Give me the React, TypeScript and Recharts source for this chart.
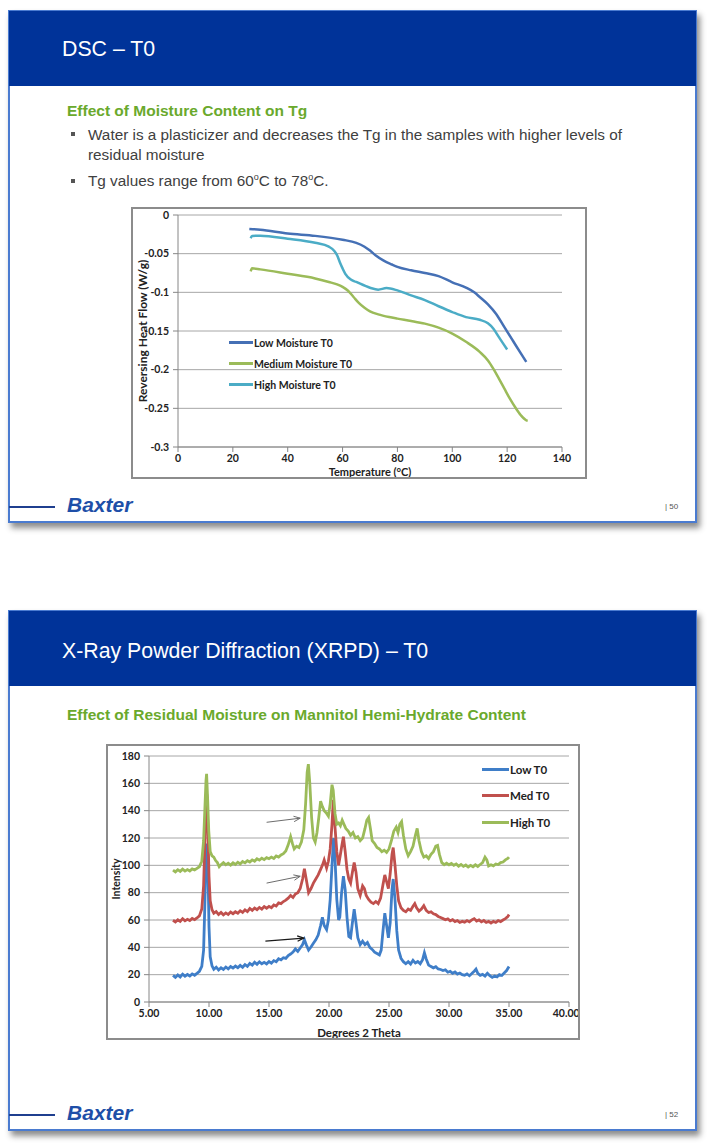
import React from 'react';
import { LineChart, Line, XAxis, YAxis, CartesianGrid, Legend, ReferenceLine } from 'recharts';

// ---- DSC (slide 50) ----
const dscSeries = ['Low Moisture T0', 'Medium Moisture T0', 'High Moisture T0'];

const lowTemp = [26, 30, 40, 50, 60, 65, 68, 70, 72, 75, 78, 80, 85, 90, 95, 100, 105, 108, 110, 113, 116, 119, 122, 125, 127];
const lowFlow = [-0.018, -0.019, -0.024, -0.027, -0.032, -0.036, -0.041, -0.046, -0.052, -0.059, -0.064, -0.067, -0.0715, -0.075, -0.079, -0.087, -0.094, -0.1, -0.106, -0.1155, -0.128, -0.145, -0.162, -0.179, -0.19];

const medTemp = [26.5, 27, 30, 40, 50, 55, 58, 60, 62, 64, 66, 68, 70, 73, 77, 80, 85, 90, 95, 100, 105, 110, 113, 115, 117, 119, 121, 123, 125, 127, 127.5];
const medFlow = [-0.073, -0.069, -0.0703, -0.076, -0.082, -0.0866, -0.0897, -0.093, -0.098, -0.106, -0.114, -0.12, -0.1246, -0.1285, -0.132, -0.134, -0.137, -0.1405, -0.1457, -0.1534, -0.164, -0.177, -0.188, -0.199, -0.2116, -0.2246, -0.2375, -0.249, -0.259, -0.2655, -0.266];

const highTemp = [26.5, 27, 30, 40, 50, 55, 57, 58, 59, 60, 61, 63, 65, 70, 73, 76, 80, 85, 90, 95, 100, 105, 110, 113, 115, 117, 120];
const highFlow = [-0.03, -0.027, -0.0267, -0.0306, -0.036, -0.041, -0.0465, -0.052, -0.061, -0.069, -0.076, -0.0835, -0.0866, -0.094, -0.0965, -0.0945, -0.0975, -0.104, -0.11, -0.118, -0.1255, -0.132, -0.1355, -0.14, -0.147, -0.158, -0.174];

const dscXTicks = [0, 20, 40, 60, 80, 100, 120, 140];
const dscYTicks = [0, -0.05, -0.1, -0.15, -0.2, -0.25, -0.3];

// ---- XRPD (slide 52) ----
const xrpdSeries = ['Low T0', 'Med T0', 'High T0'];

const lowTheta = [7.0, 7.2, 7.4, 7.6, 7.8, 8.0, 8.2, 8.4, 8.6, 8.8, 9.0, 9.2, 9.4, 9.55, 9.65, 9.75, 9.83, 9.92, 10.0, 10.1, 10.25, 10.4, 10.6, 10.8, 11.0, 11.2, 11.4, 11.6, 11.8, 12.0, 12.2, 12.4, 12.6, 12.8, 13.0, 13.2, 13.4, 13.6, 13.8, 14.0, 14.2, 14.4, 14.6, 14.8, 15.0, 15.2, 15.4, 15.6, 15.8, 16.0, 16.2, 16.4, 16.6, 16.8, 17.0, 17.2, 17.4, 17.6, 17.8, 17.95, 18.1, 18.3, 18.5, 18.7, 18.9, 19.1, 19.3, 19.45, 19.6, 19.8, 19.95, 20.1, 20.25, 20.38, 20.5, 20.65, 20.8, 20.9, 21.05, 21.2, 21.35, 21.5, 21.65, 21.8, 21.95, 22.1, 22.25, 22.4, 22.6, 22.8, 23.0, 23.2, 23.4, 23.6, 23.8, 24.0, 24.2, 24.35, 24.5, 24.65, 24.8, 24.95, 25.1, 25.25, 25.35, 25.5, 25.65, 25.8, 26.0, 26.2, 26.4, 26.6, 26.8, 27.0, 27.2, 27.4, 27.6, 27.8, 27.95, 28.1, 28.3, 28.5, 28.7, 28.9, 29.1, 29.3, 29.5, 29.7, 29.9, 30.1, 30.3, 30.5, 30.7, 30.9, 31.1, 31.3, 31.5, 31.7, 31.9, 32.1, 32.25, 32.4, 32.6, 32.8, 33.0, 33.2, 33.4, 33.6, 33.8, 34.0, 34.2, 34.4, 34.6, 34.8, 35.0];
const lowIntensity = [19.5, 18.0, 19.8, 18.3, 20.4, 18.9, 20.1, 19.0, 20.6, 19.6, 21.0, 22.5, 26, 38, 70, 105, 116, 95, 55, 33, 26.5, 24.0, 25.5, 23.4, 25.0, 23.8, 25.6, 24.2, 26.0, 24.9, 26.3, 25.1, 26.8, 25.4, 27.4, 26.1, 28.2, 27.0, 29.1, 27.6, 29.4, 28.0, 29.0, 27.9, 29.6, 28.4, 30.3, 29.5, 31.6, 30.8, 32.4, 31.9, 34.0, 35.1, 36.5, 38.8, 37.0, 39.5, 42.0, 45.5, 42.0, 38.0, 40.2, 43.0, 45.5, 49.0, 56.0, 62.0, 56.0, 53.0, 60.0, 75.0, 100.0, 120.0, 105.0, 75.0, 60.0, 62.0, 80.0, 92.0, 82.0, 62.0, 48.0, 47.0, 58.0, 68.0, 58.0, 47.0, 42.0, 44.5, 42.0, 43.5, 40.0, 38.5, 36.5, 35.5, 34.5, 38.0, 52.0, 65.0, 56.0, 47.0, 58.0, 82.0, 90.0, 75.0, 52.0, 38.0, 32.0, 29.5, 28.0, 29.5, 27.8, 30.5, 28.5, 29.6, 28.0, 31.0, 36.0, 31.5, 27.0, 26.0, 25.0, 25.8, 24.2, 23.8, 23.0, 23.6, 21.8, 22.4, 21.0, 22.0, 20.4, 21.2, 20.0, 19.6, 20.5, 19.2, 20.8, 22.5, 24.0, 21.0, 19.5, 20.2, 19.0, 21.0, 19.2, 18.0, 19.0, 18.4, 20.0, 19.4, 21.2, 23.0, 26.0];

const medTheta = [7.0, 7.2, 7.4, 7.6, 7.8, 8.0, 8.2, 8.4, 8.6, 8.8, 9.0, 9.2, 9.4, 9.55, 9.65, 9.75, 9.82, 9.9, 10.0, 10.1, 10.25, 10.4, 10.6, 10.8, 11.0, 11.2, 11.4, 11.6, 11.8, 12.0, 12.2, 12.4, 12.6, 12.8, 13.0, 13.2, 13.4, 13.6, 13.8, 14.0, 14.2, 14.4, 14.6, 14.8, 15.0, 15.2, 15.4, 15.6, 15.8, 16.0, 16.2, 16.4, 16.6, 16.8, 17.0, 17.2, 17.4, 17.6, 17.8, 17.95, 18.1, 18.3, 18.5, 18.7, 18.9, 19.1, 19.3, 19.45, 19.6, 19.8, 19.95, 20.1, 20.25, 20.36, 20.5, 20.65, 20.8, 20.95, 21.1, 21.2, 21.35, 21.5, 21.65, 21.8, 21.95, 22.1, 22.25, 22.4, 22.6, 22.8, 22.95, 23.1, 23.3, 23.5, 23.7, 23.9, 24.1, 24.3, 24.5, 24.65, 24.8, 24.95, 25.1, 25.25, 25.35, 25.5, 25.65, 25.8, 26.0, 26.2, 26.4, 26.6, 26.8, 27.0, 27.15, 27.3, 27.5, 27.7, 27.9, 28.1, 28.3, 28.5, 28.7, 28.9, 29.1, 29.3, 29.5, 29.7, 29.9, 30.1, 30.3, 30.5, 30.7, 30.9, 31.1, 31.3, 31.5, 31.7, 31.9, 32.1, 32.3, 32.5, 32.7, 32.9, 33.1, 33.3, 33.5, 33.7, 33.9, 34.1, 34.3, 34.5, 34.7, 34.9, 35.0];
const medIntensity = [59.8, 58.6, 60.2, 59.0, 61.0, 59.4, 60.5, 59.6, 61.1, 60.2, 61.5, 63.0, 68, 85, 115, 145, 152, 130, 92, 74, 67.5, 65.0, 66.2, 64.0, 65.5, 63.8, 65.2, 64.0, 65.8, 64.6, 66.0, 65.0, 66.8, 65.6, 67.5, 66.2, 68.4, 67.0, 68.8, 67.6, 69.2, 68.0, 69.8, 68.6, 70.0, 69.0, 71.0, 70.2, 72.5, 72.0, 73.5, 74.5, 76.0, 78.0, 76.5, 79.0, 80.0, 83.0, 90.0, 97.5, 90.0, 80.0, 83.0, 87.0, 90.0, 93.0, 97.0, 100.0, 104.0, 98.0, 103.0, 112.0, 130.0, 148.0, 128.0, 110.0, 100.0, 108.0, 116.0, 121.0, 110.0, 97.0, 90.0, 87.0, 95.0, 102.0, 95.0, 83.0, 78.0, 85.0, 83.0, 78.0, 75.0, 73.0, 72.0, 73.5, 72.0, 76.0, 86.0, 93.0, 88.0, 83.0, 94.0, 108.0, 113.0, 100.0, 85.0, 74.0, 69.0, 67.0, 66.0, 68.0, 67.0, 70.0, 72.0, 69.0, 66.5, 68.0, 70.5, 67.0, 65.5, 66.0, 64.5, 64.0, 62.6, 61.8, 61.0, 60.2, 60.8, 59.4, 60.2, 58.8, 59.6, 58.2, 59.0, 58.4, 59.6, 58.6, 60.0, 61.0, 59.2, 60.0, 58.6, 59.6, 58.2, 59.0, 57.8, 59.0, 58.2, 59.6, 58.8, 60.0, 61.0, 62.5, 64.0];

const highTheta = [7.0, 7.2, 7.4, 7.6, 7.8, 8.0, 8.2, 8.4, 8.6, 8.8, 9.0, 9.2, 9.4, 9.55, 9.65, 9.75, 9.8, 9.88, 9.98, 10.1, 10.25, 10.4, 10.55, 10.7, 10.85, 11.0, 11.2, 11.4, 11.6, 11.8, 12.0, 12.2, 12.4, 12.6, 12.8, 13.0, 13.2, 13.4, 13.6, 13.8, 14.0, 14.2, 14.4, 14.6, 14.8, 15.0, 15.2, 15.4, 15.6, 15.8, 16.0, 16.2, 16.4, 16.6, 16.8, 16.95, 17.1, 17.3, 17.5, 17.7, 17.9, 18.05, 18.18, 18.28, 18.4, 18.55, 18.7, 18.85, 19.0, 19.15, 19.3, 19.45, 19.6, 19.8, 19.95, 20.1, 20.25, 20.35, 20.5, 20.65, 20.8, 20.95, 21.1, 21.25, 21.4, 21.6, 21.8, 22.0, 22.2, 22.4, 22.6, 22.8, 23.0, 23.15, 23.3, 23.45, 23.6, 23.8, 24.0, 24.2, 24.4, 24.6, 24.8, 25.0, 25.2, 25.4, 25.6, 25.75, 25.9, 26.05, 26.2, 26.4, 26.6, 26.8, 27.0, 27.2, 27.35, 27.5, 27.7, 27.9, 28.1, 28.3, 28.5, 28.7, 28.9, 29.05, 29.2, 29.4, 29.6, 29.8, 30.0, 30.2, 30.4, 30.6, 30.8, 31.0, 31.2, 31.4, 31.6, 31.8, 32.0, 32.2, 32.4, 32.6, 32.8, 33.0, 33.15, 33.3, 33.5, 33.7, 33.9, 34.1, 34.3, 34.5, 34.7, 34.9, 35.0];
const highIntensity = [96.5, 95.2, 96.8, 95.6, 97.2, 95.8, 96.9, 95.9, 97.4, 96.6, 97.8, 99.0, 103, 118, 140, 162, 167, 150, 125, 110, 107, 106, 103.5, 102.0, 99.0, 100.5, 102.0, 100.4, 101.6, 100.2, 101.8, 100.6, 102.2, 101.0, 102.8, 101.8, 103.4, 102.4, 104.0, 103.0, 104.8, 103.8, 105.2, 104.2, 105.6, 104.8, 106.0, 105.0, 106.8, 106.0, 107.6, 108.5, 110.5, 115.0, 121.0, 116.0, 112.0, 114.0, 113.0, 117.0, 126.0, 145.0, 168.0, 174.0, 160.0, 135.0, 120.0, 117.0, 124.0, 135.0, 147.0, 143.0, 140.0, 138.0, 136.0, 145.0, 159.0, 155.0, 138.0, 130.0, 131.0, 129.0, 133.0, 130.0, 127.0, 125.0, 122.0, 124.0, 120.0, 121.0, 118.0, 120.0, 127.0, 133.0, 135.0, 127.0, 118.0, 116.0, 113.0, 112.0, 110.0, 111.0, 109.5, 112.0, 118.0, 125.0, 128.0, 124.0, 130.0, 132.0, 122.0, 112.0, 107.0, 110.0, 114.0, 122.0, 127.0, 118.0, 110.0, 106.0, 107.0, 105.0, 108.0, 110.0, 114.0, 114.5, 108.0, 102.0, 100.5, 101.6, 100.4, 101.4, 100.0, 101.0, 99.4, 100.6, 99.2, 100.2, 98.8, 100.0, 99.0, 100.4, 99.2, 100.6, 102.0, 106.0, 104.0, 99.5, 100.4, 99.6, 101.0, 100.6, 102.0, 102.4, 104.0, 105.0, 106.0];

const xrpdXTicks = [5, 10, 15, 20, 25, 30, 35, 40];
const xrpdYTicks = [0, 20, 40, 60, 80, 100, 120, 140, 160, 180];

// annotation arrows, [x1, y1, x2, y2] in data units
const arrowHigh = [14.8, 131.5, 17.6, 134.5];
const arrowMed = [14.8, 87, 17.6, 92];
const arrowLow = [14.7, 44.5, 17.9, 46.8];

const toPoints = (xs: number[], ys: number[]) => xs.map((x, i) => ({ x, y: ys[i] }));

const chartFont = 'Lato, "Open Sans", sans-serif';
const tickStyle = { fontSize: 10.5, fontWeight: 700, fill: '#222', fontFamily: chartFont };
const labelStyle = (size: number) => ({ fontSize: size, fontWeight: 700, fill: '#222', fontFamily: chartFont });

// keep the legend in series order (recharts sorts by name otherwise)
const makeLegend = (order: string[], rowH: number, lineW: number, size: number) => (props: any) => {
  const items = [...(props.payload || [])].sort((a: any, b: any) => order.indexOf(a.value) - order.indexOf(b.value));
  return (
    <div>
      {items.map((e: any, i: number) => (
        <div key={i} style={{ display: 'flex', alignItems: 'center', height: rowH }}>
          <span style={{ display: 'inline-block', width: lineW, height: 3, background: e.color }} />
          <span style={{ marginLeft: 1, fontSize: size, fontWeight: 700, color: '#222', fontFamily: chartFont, whiteSpace: 'nowrap' }}>{e.value}</span>
        </div>
      ))}
    </div>
  );
};

const makeArrow = (color: string, w: number) => (props: any) => {
  const { x1, y1, x2, y2 } = props;
  const a = Math.atan2(y2 - y1, x2 - x1);
  const h = 7;
  const p1x = x2 - h * Math.cos(a - 0.4);
  const p1y = y2 - h * Math.sin(a - 0.4);
  const p2x = x2 - h * Math.cos(a + 0.4);
  const p2y = y2 - h * Math.sin(a + 0.4);
  return (
    <g>
      <line x1={x1} y1={y1} x2={x2} y2={y2} stroke={color} strokeWidth={w} />
      <polyline points={`${p1x},${p1y} ${x2},${y2} ${p2x},${p2y}`} fill="none" stroke={color} strokeWidth={w} />
    </g>
  );
};

const DscChart = () => (
  <LineChart width={452} height={268} margin={{ top: 6, right: 23, left: 0, bottom: 0 }}>
    <CartesianGrid vertical={false} stroke="#a6a6a6" />
    <XAxis
      type="number"
      dataKey="x"
      domain={[0, 140]}
      ticks={dscXTicks}
      height={30}
      tickSize={5}
      tickMargin={3}
      tick={tickStyle}
      stroke="#868686"
      label={{ value: 'Temperature (°C)', position: 'insideBottom', offset: 1, style: labelStyle(11) }}
    />
    <YAxis
      type="number"
      dataKey="y"
      domain={[-0.3, 0]}
      ticks={dscYTicks}
      width={45}
      tickSize={5}
      tickMargin={4}
      tick={tickStyle}
      stroke="#868686"
      tickFormatter={(v: number) => String(Math.round(v * 100) / 100)}
      label={{ value: 'Reversing Heat Flow (W/g)', angle: -90, position: 'insideLeft', offset: 10, style: { ...labelStyle(12), textAnchor: 'middle' } }}
    />
    <Legend
      layout="vertical"
      align="center"
      verticalAlign="middle"
      content={makeLegend(dscSeries, 21, 24, 10.5)}
      wrapperStyle={{ left: 96, top: 123, width: 'auto' }}
    />
    <Line data={toPoints(lowTemp, lowFlow)} dataKey="y" name={dscSeries[0]} type="monotone" stroke="#4570b5" strokeWidth={2.5} dot={false} isAnimationActive={false} />
    <Line data={toPoints(medTemp, medFlow)} dataKey="y" name={dscSeries[1]} type="monotone" stroke="#9bbb59" strokeWidth={2.5} dot={false} isAnimationActive={false} />
    <Line data={toPoints(highTemp, highFlow)} dataKey="y" name={dscSeries[2]} type="monotone" stroke="#4bacc6" strokeWidth={2.5} dot={false} isAnimationActive={false} />
  </LineChart>
);

const XrpdChart = () => (
  <LineChart width={470} height={292} margin={{ top: 10, right: 9, left: 0, bottom: 0 }}>
    <CartesianGrid vertical={false} stroke="#a6a6a6" />
    <XAxis
      type="number"
      dataKey="x"
      domain={[5, 40]}
      ticks={xrpdXTicks}
      height={36}
      tickSize={5}
      tickMargin={3}
      tick={tickStyle}
      stroke="#868686"
      tickFormatter={(v: number) => v.toFixed(2)}
      label={{ value: 'Degrees 2 Theta', position: 'insideBottom', offset: 1, style: labelStyle(11.5) }}
    />
    <YAxis
      type="number"
      dataKey="y"
      domain={[0, 180]}
      ticks={xrpdYTicks}
      width={41}
      tickSize={5}
      tickMargin={4}
      tick={tickStyle}
      stroke="#868686"
      label={{ value: 'Intensity', angle: -90, position: 'insideLeft', offset: 8, style: { ...labelStyle(10.5), textAnchor: 'middle' } }}
    />
    <Legend
      layout="vertical"
      align="center"
      verticalAlign="middle"
      content={makeLegend(xrpdSeries, 26.5, 27, 11.5)}
      wrapperStyle={{ left: 374, top: 10, width: 'auto' }}
    />
    <Line data={toPoints(lowTheta, lowIntensity)} dataKey="y" name={xrpdSeries[0]} type="linear" stroke="#3f7ec8" strokeWidth={2.8} dot={false} isAnimationActive={false} />
    <Line data={toPoints(medTheta, medIntensity)} dataKey="y" name={xrpdSeries[1]} type="linear" stroke="#c0504d" strokeWidth={2.8} dot={false} isAnimationActive={false} />
    <Line data={toPoints(highTheta, highIntensity)} dataKey="y" name={xrpdSeries[2]} type="linear" stroke="#9bbb59" strokeWidth={2.8} dot={false} isAnimationActive={false} />
    <ReferenceLine segment={[{ x: arrowHigh[0], y: arrowHigh[1] }, { x: arrowHigh[2], y: arrowHigh[3] }]} shape={makeArrow('#6d6d6d', 1)} />
    <ReferenceLine segment={[{ x: arrowMed[0], y: arrowMed[1] }, { x: arrowMed[2], y: arrowMed[3] }]} shape={makeArrow('#6d6d6d', 1)} />
    <ReferenceLine segment={[{ x: arrowLow[0], y: arrowLow[1] }, { x: arrowLow[2], y: arrowLow[3] }]} shape={makeArrow('#1a1a1a', 1.3)} />
  </LineChart>
);

const bodyFont = '"Liberation Sans", Arial, sans-serif';

const abs = (left: number, top: number, extra: React.CSSProperties = {}): React.CSSProperties => ({ position: 'absolute', left, top, ...extra });

const Slide = ({ top, height, title, titleTop, page }: { top: number; height: number; title: string; titleTop: number; page: string }) => (
  <>
    <div style={abs(8, top, { width: 689, height, border: '2px solid #4a7bd0', boxSizing: 'border-box', background: '#fff', boxShadow: '3px 5px 6px rgba(0,0,0,0.45)' })} />
    <div style={abs(9, top + 1, { width: 687, height: 75, background: '#003399' })} />
    <div style={abs(62, titleTop, { color: '#fff', fontSize: 21.3, lineHeight: '21px', fontFamily: bodyFont, whiteSpace: 'nowrap' })}>{title}</div>
    <div style={abs(9, top + height - 17, { width: 46, height: 2, background: '#1f3f8f' })} />
    <div style={abs(67, top + height - 29, { color: '#1e4fa8', fontSize: 21, lineHeight: '22px', fontWeight: 900, fontStyle: 'italic', fontFamily: bodyFont })}>Baxter</div>
    <div style={abs(665, top + height - 21, { color: '#555', fontSize: 8, lineHeight: '10px', fontFamily: bodyFont })}>| {page}</div>
  </>
);

const bulletText: React.CSSProperties = { color: '#404040', fontSize: 15.3, lineHeight: '19px', fontFamily: bodyFont, whiteSpace: 'nowrap' };
const bulletMark = (top: number) => <div style={abs(71, top, { width: 4, height: 4, background: '#555' })} />;

export default function App() {
  return (
    <div style={{ position: 'absolute', left: 0, top: 0, width: 710, height: 1146, background: '#fff', overflow: 'hidden' }}>
      <Slide top={10} height={513} title="DSC – T0" titleTop={39} page="50" />
      <div style={abs(67, 102, { color: '#6aa92c', fontSize: 15.5, lineHeight: '17px', fontWeight: 700, fontFamily: bodyFont, whiteSpace: 'nowrap' })}>Effect of Moisture Content on Tg</div>
      {bulletMark(132)}
      <div style={abs(88, 125, bulletText)}>Water is a plasticizer and decreases the Tg in the samples with higher levels of</div>
      <div style={abs(88, 145, bulletText)}>residual moisture</div>
      {bulletMark(179)}
      <div style={abs(88, 171, bulletText)}>
        Tg values range from 60<sup style={{ fontSize: 9, lineHeight: 0 }}>o</sup>C to 78<sup style={{ fontSize: 9, lineHeight: 0 }}>o</sup>C.
      </div>
      <div style={abs(131, 207, { width: 456, height: 272, border: '2px solid #8c8c8c', boxSizing: 'border-box', background: '#fff' })}>
        <DscChart />
      </div>

      <Slide top={610} height={521} title="X-Ray Powder Diffraction (XRPD) – T0" titleTop={641} page="52" />
      <div style={abs(67, 706, { color: '#6aa92c', fontSize: 15.5, lineHeight: '17px', fontWeight: 700, fontFamily: bodyFont, whiteSpace: 'nowrap' })}>Effect of Residual Moisture on Mannitol Hemi-Hydrate Content</div>
      <div style={abs(106, 744, { width: 474, height: 296, border: '2px solid #8c8c8c', boxSizing: 'border-box', background: '#fff' })}>
        <XrpdChart />
      </div>
    </div>
  );
}
